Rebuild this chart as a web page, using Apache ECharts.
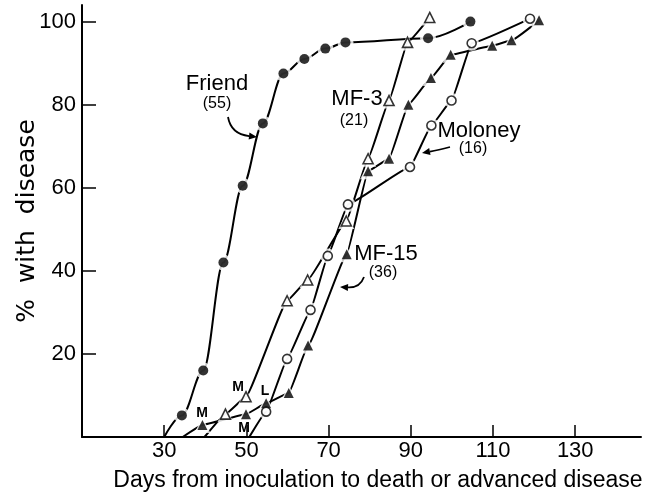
<!DOCTYPE html>
<html>
<head>
<meta charset="utf-8">
<script src="https://cdn.jsdelivr.net/npm/echarts@6/dist/echarts.min.js"></script>
<style>
  html, body { margin: 0; background: #fff; }
  #chart { width: 651px; height: 497px; }
</style>
</head>
<body>
<div id="chart"></div>
<script>
// values: days from inoculation, % with disease
// first point of every curve is where it leaves the x axis (no marker there)
const friendDays  = [30, 34.3, 39.5, 44.4, 49.1, 54, 59, 64.1, 69.2, 74.1, 94.2, 104.5];
const friendPct   = [0, 5.2, 16, 42, 60.5, 75.5, 87.5, 91, 93.5, 95, 96, 100];

const mf3Days     = [39.8, 44.9, 49.9, 59.9, 64.9, 74.3, 79.6, 84.7, 89.2, 94.6];
const mf3Pct      = [0, 5.5, 9.7, 32.8, 37.8, 52, 67, 81, 95, 101];

const mf15Days    = [34.5, 39.3, 49.9, 54.8, 60.3, 65, 74.4, 79.6, 84.7, 89.4, 94.9, 99.7, 109.8, 114.5, 121.2];
const mf15Pct     = [0, 2.9, 5.5, 8.1, 10.6, 22, 44, 64, 67, 80, 86.4, 92, 94.2, 95.5, 100.3];

const moloneyDays = [50.7, 54.8, 59.9, 65.6, 69.8, 74.7, 89.8, 95, 99.9, 104.8, 119];
const moloneyPct  = [0, 6.1, 18.8, 30.6, 43.6, 56, 65, 75, 81, 94.8, 100.7];

const xTicks = [30, 50, 70, 90, 110, 130];
const yTicks = [20, 40, 60, 80, 100];

const FONT = 'Liberation Sans';

const groups = [
  { name: 'Friend',  days: friendDays,  pct: friendPct,  symbol: 'circle',   open: false, size: 10, smooth: 0.35 },
  { name: 'MF-3',    days: mf3Days,     pct: mf3Pct,     symbol: 'triangle', open: true,  size: 10, smooth: 0.1 },
  { name: 'MF-15',   days: mf15Days,    pct: mf15Pct,    symbol: 'triangle', open: false, size: 10, smooth: 0.1 },
  { name: 'Moloney', days: moloneyDays, pct: moloneyPct, symbol: 'circle',   open: true,  size: 9,  smooth: 0.1 }
];

const series = [];
groups.forEach(g => {
  const pts = g.days.map((d, i) => [d, g.pct[i]]);
  // the curve itself
  series.push({
    name: g.name, type: 'line', data: pts, symbol: 'none',
    smooth: g.smooth, smoothMonotone: 'x',
    lineStyle: { color: '#000', width: 2 }, z: 2, silent: true
  });
  // white halo so the line breaks around each point, like the original
  series.push({
    type: 'scatter', data: pts.slice(1), symbol: g.symbol, symbolSize: g.size + 6,
    itemStyle: { color: '#fff' }, z: 3, silent: true
  });
  series.push({
    type: 'scatter', data: pts.slice(1), symbol: g.symbol, symbolSize: g.size,
    itemStyle: { color: g.open ? '#fff' : '#000', borderColor: '#000', borderWidth: g.open ? 1.6 : 0 },
    z: 4, silent: true
  });
});

function label(text, x, y, size, weight) {
  return {
    type: 'text', x: x, y: y, z: 10,
    style: {
      text: text, fill: '#000', font: (weight || 'normal') + ' ' + size + 'px "' + FONT + '"',
      textAlign: 'center', textVerticalAlign: 'middle', align: 'center', verticalAlign: 'middle'
    }
  };
}

// curved pointer with a small filled head at the end
function arrow(x1, y1, cx, cy, x2, y2) {
  const a = Math.atan2(y2 - cy, x2 - cx);
  const len = 8, half = 3.5;
  const bx = x2 - len * Math.cos(a), by = y2 - len * Math.sin(a);
  return [
    { type: 'bezierCurve', z: 10, shape: { x1: x1, y1: y1, cpx1: cx, cpy1: cy, x2: bx, y2: by },
      style: { stroke: '#000', lineWidth: 1.8, fill: null } },
    { type: 'polygon', z: 10,
      shape: { points: [[x2, y2], [bx - half * Math.sin(a), by + half * Math.cos(a)], [bx + half * Math.sin(a), by - half * Math.cos(a)]] },
      style: { fill: '#000' } }
  ];
}

const graphics = [
  label('Friend', 217, 84, 22), label('(55)', 217, 104, 16),
  label('MF-3', 357, 99, 22), label('(21)', 354, 121, 16),
  label('Moloney', 479, 131, 22), label('(16)', 473, 149, 16),
  label('MF-15', 386, 254, 22), label('(36)', 383, 273, 16),
  label('M', 202, 413, 14, 'bold'), label('M', 238, 387, 14, 'bold'),
  label('M', 244, 428, 14, 'bold'), label('L', 265, 391, 14, 'bold'),
  ...arrow(228, 117, 231, 134, 257, 137),
  ...arrow(450, 147, 438, 150, 422, 153),
  ...arrow(364, 277, 360, 288, 340, 287),
  // x axis title sits a little right of the plot centre
  label('Days from inoculation to death or advanced disease', 378, 481, 23)
];

const chart = echarts.init(document.getElementById('chart'));
chart.setOption({
  animation: false,
  backgroundColor: '#fff',
  textStyle: { fontFamily: FONT },
  grid: { left: 82, right: 10, top: 5, bottom: 60, containLabel: false },
  xAxis: {
    type: 'value', min: 10, max: 146,
    axisLine: { lineStyle: { color: '#000', width: 2 } },
    axisTick: { inside: true, length: 12, customValues: xTicks, lineStyle: { color: '#000', width: 1.5 } },
    axisLabel: { customValues: xTicks, color: '#000', fontSize: 22, margin: 3, fontFamily: FONT },
    splitLine: { show: false }
  },
  yAxis: {
    type: 'value', min: 0, max: 104,
    name: '%  with  disease', nameLocation: 'middle', nameGap: 42, nameRotate: 90,
    nameMoveOverlap: false,
    nameTextStyle: { color: '#000', fontSize: 25, fontFamily: 'DejaVu Sans' },
    axisLine: { lineStyle: { color: '#000', width: 2 } },
    axisTick: { inside: true, length: 14, customValues: yTicks, lineStyle: { color: '#000', width: 1.5 } },
    axisLabel: { customValues: yTicks, color: '#000', fontSize: 22, margin: 6, fontFamily: FONT },
    splitLine: { show: false }
  },
  graphic: graphics,
  series: series
});
</script>
</body>
</html>
